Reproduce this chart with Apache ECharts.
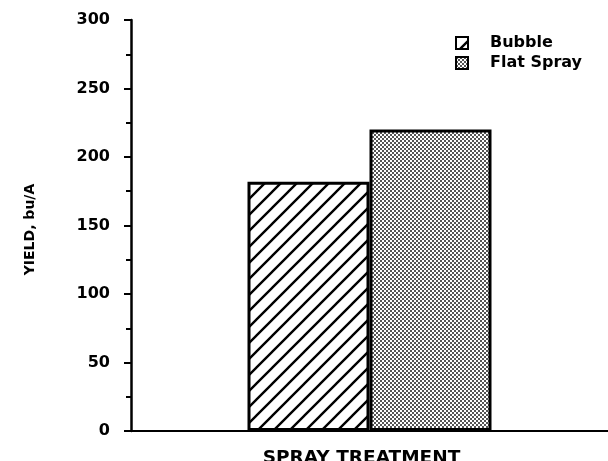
<!DOCTYPE html>
<html>
<head>
<meta charset="utf-8">
<script src="https://cdn.jsdelivr.net/npm/echarts@6/dist/echarts.min.js"></script>
<style>
  html, body { margin: 0; padding: 0; background: #fff; }
</style>
</head>
<body>
<div id="chart" style="width:608px;height:461px;"></div>
<script>
  var categories = [''];
  var seriesNames = ['Bubble', 'Flat Spray'];
  var bubbleValues = [182];
  var flatSprayValues = [220];
  var yTicks = [0, 50, 100, 150, 200, 250, 300];

  // hatch tile, "/" lines
  function hatchTile() {
    var s = 16;
    var c = document.createElement('canvas');
    c.width = s; c.height = s;
    var ctx = c.getContext('2d');
    ctx.fillStyle = '#fff';
    ctx.fillRect(0, 0, s, s);
    ctx.strokeStyle = '#000';
    ctx.lineWidth = 2.4;
    ctx.beginPath();
    for (var k = -1; k <= 1; k++) {
      ctx.moveTo(k * s - 2, s + 2);
      ctx.lineTo(k * s + s + 2, -2);
    }
    ctx.stroke();
    return c;
  }

  // stipple tile, fine dots
  function dotTile() {
    var c = document.createElement('canvas');
    c.width = 4; c.height = 4;
    var ctx = c.getContext('2d');
    ctx.fillStyle = '#fff';
    ctx.fillRect(0, 0, 4, 4);
    ctx.fillStyle = '#555';
    ctx.fillRect(0, 0, 2, 2);
    ctx.fillRect(2, 2, 2, 2);
    return c;
  }

  var font = '"DejaVu Sans", sans-serif';
  var chart = echarts.init(document.getElementById('chart'));
  chart.setOption({
    animation: false,
    grid: { left: 131, right: 0, top: 20, bottom: 30, outerBoundsMode: 'none' },
    legend: {
      orient: 'vertical',
      left: 450,
      top: 30,
      itemWidth: 12,
      itemHeight: 12,
      itemGap: 4,
      icon: 'rect',
      data: seriesNames,
      textStyle: { fontFamily: font, fontWeight: 'bold', fontSize: 16, color: '#000', padding: [0, 0, 0, 17] }
    },
    xAxis: {
      type: 'category',
      data: categories,
      name: 'SPRAY TREATMENT',
      nameLocation: 'middle',
      nameGap: 18,
      nameTextStyle: { fontFamily: font, fontWeight: 'bold', fontSize: 18.5, color: '#000', padding: [0, 16, 0, 0] },
      axisLine: { lineStyle: { color: '#000', width: 2 } },
      axisTick: { show: false },
      axisLabel: { show: false }
    },
    yAxis: {
      type: 'value',
      min: yTicks[0],
      max: yTicks[yTicks.length - 1],
      interval: 50,
      name: 'YIELD, bu/A',
      nameLocation: 'middle',
      nameGap: 94,
      nameRotate: 90,
      nameTextStyle: { fontFamily: font, fontWeight: 'bold', fontSize: 14, color: '#000', padding: [0, 8, 0, 0] },
      axisLine: { show: true, lineStyle: { color: '#000', width: 2.5 } },
      axisTick: { show: true, length: 7, lineStyle: { color: '#000', width: 2 } },
      minorTick: { show: true, splitNumber: 2, length: 5, lineStyle: { color: '#000', width: 2 } },
      splitLine: { show: false },
      axisLabel: { fontFamily: font, fontWeight: 'bold', fontSize: 16, color: '#000', margin: 21 }
    },
    series: [
      {
        name: seriesNames[0],
        type: 'bar',
        data: bubbleValues,
        barWidth: 122,
        barGap: '0%',
        itemStyle: { color: { image: hatchTile(), repeat: 'repeat' }, borderColor: '#000', borderWidth: 3 }
      },
      {
        name: seriesNames[1],
        type: 'bar',
        data: flatSprayValues,
        barWidth: 122,
        barGap: '0%',
        itemStyle: { color: { image: dotTile(), repeat: 'repeat' }, borderColor: '#000', borderWidth: 3 }
      }
    ]
  });
</script>
</body>
</html>
